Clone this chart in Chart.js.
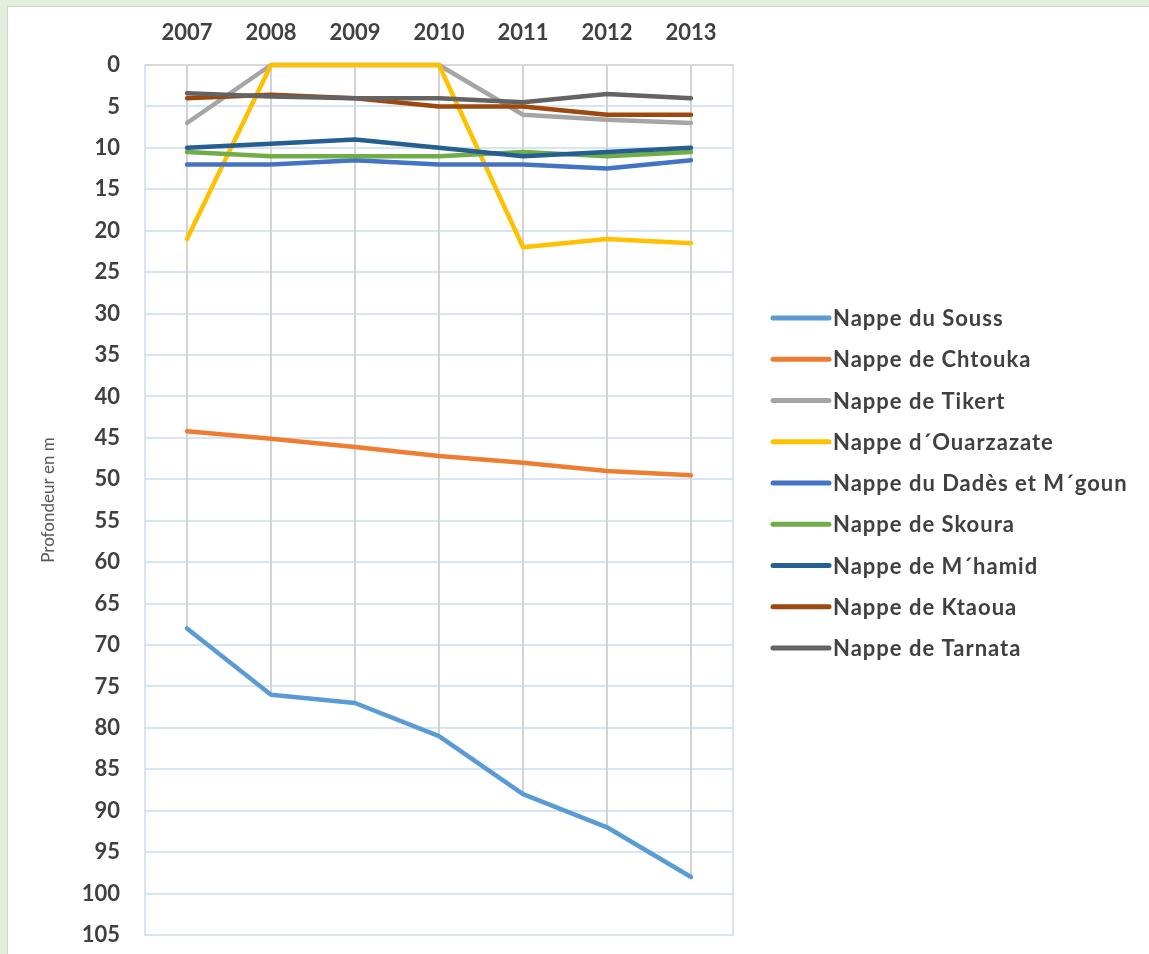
<!DOCTYPE html>
<html>
<head>
<meta charset="utf-8">
<script src="https://cdn.jsdelivr.net/npm/chart.js@4"></script>
<style>
html, body { margin: 0; padding: 0; background: #e2efda; width: 1149px; height: 954px; overflow: hidden; }
#frame { position: absolute; left: 7px; top: 6px; width: 1142px; height: 948px; background: #fff;
         border-left: 1px solid #d4d4d4; border-top: 1px solid #d4d4d4; }
#frame canvas { display: block; }
</style>
</head>
<body>
<div id="frame"><canvas id="c" width="1142" height="948" style="width:1142px;height:948px"></canvas></div>
<script>
const years = ["2007", "2008", "2009", "2010", "2011", "2012", "2013"];

const souss      = [68, 76, 77, 81, 88, 92, 98];
const chtouka    = [44.2, 45.1, 46.1, 47.2, 48, 49, 49.5];
const tikert     = [7, 0, 0, 0, 6, 6.6, 7];
const ouarzazate = [21, 0, 0, 0, 22, 21, 21.5];
const dades      = [12, 12, 11.5, 12, 12, 12.5, 11.5];
const skoura     = [10.5, 11, 11, 11, 10.5, 11, 10.5];
const mhamid     = [10, 9.5, 9, 10, 11, 10.5, 10];
const ktaoua     = [4, 3.6, 4, 5, 5, 6, 6];
const tarnata    = [3.4, 3.8, 4, 4, 4.5, 3.5, 4];

const names = ["Nappe du Souss", "Nappe de Chtouka", "Nappe de Tikert", "Nappe d\u00b4Ouarzazate",
               "Nappe du Dad\u00e8s et M\u00b4goun", "Nappe de Skoura", "Nappe de M\u00b4hamid",
               "Nappe de Ktaoua", "Nappe de Tarnata"];
const values = [souss, chtouka, tikert, ouarzazate, dades, skoura, mhamid, ktaoua, tarnata];
const colors = ["#5b9bd5", "#ed7d31", "#a5a5a5", "#ffc000", "#4472c4", "#70ad47", "#255e91", "#9e480e", "#636363"];

const FONT = "Lato, 'Open Sans', sans-serif";

// drop lines, plot border and the legend on the right
const decor = {
    id: "decor",
    beforeDatasetsDraw(chart) {
        const { ctx, chartArea: a, scales: { x, y } } = chart;
        ctx.save();
        ctx.strokeStyle = "#d3d3d3";
        ctx.lineWidth = 2;
        years.forEach((_, i) => {
            const deepest = Math.max(...chart.data.datasets.map(d => d.data[i]));
            const px = Math.round(x.getPixelForValue(i));
            ctx.beginPath();
            ctx.moveTo(px, a.top);
            ctx.lineTo(px, y.getPixelForValue(deepest));
            ctx.stroke();
        });
        ctx.strokeStyle = "#d6e4f5";
        ctx.strokeRect(a.left, a.top, a.width, a.height);
        ctx.strokeStyle = "#d9d9d9";
        ctx.beginPath();
        ctx.moveTo(a.left, a.top);
        ctx.lineTo(a.right, a.top);
        ctx.stroke();
        ctx.restore();
    },
    afterDraw(chart) {
        const { ctx, chartArea: a } = chart;
        ctx.save();
        ctx.font = "bold 22px " + FONT;
        ctx.letterSpacing = "1px";
        ctx.textBaseline = "middle";
        chart.data.datasets.forEach((ds, i) => {
            const yy = 311 + i * 41.25;
            const x0 = a.right + 40;
            ctx.strokeStyle = ds.borderColor;
            ctx.lineWidth = 5;
            ctx.lineCap = "round";
            ctx.beginPath();
            ctx.moveTo(x0, yy);
            ctx.lineTo(x0 + 56, yy);
            ctx.stroke();
            ctx.fillStyle = "#404040";
            ctx.fillText(ds.label, x0 + 60, yy + 1);
        });
        ctx.restore();
    }
};

new Chart(document.getElementById("c"), {
    type: "line",
    data: {
        labels: years,
        datasets: values.map((v, i) => ({
            label: names[i],
            data: v,
            borderColor: colors[i],
            backgroundColor: colors[i],
            borderWidth: 4.5,
            pointRadius: 0,
            borderJoinStyle: "round",
            borderCapStyle: "round",
            clip: false,
            order: values.length - i
        }))
    },
    options: {
        responsive: false,
        animation: false,
        layout: { padding: { left: 0, top: 0, right: 417, bottom: 20 } },
        plugins: { legend: { display: false }, tooltip: { enabled: false } },
        scales: {
            x: {
                position: "top",
                offset: true,
                grid: { display: false, drawTicks: false },
                border: { display: false },
                ticks: { padding: 19, color: "#404040", font: { family: FONT, size: 22, weight: "bold" } },
                afterFit(s) { s.height = 58; }
            },
            y: {
                reverse: true,
                min: 0,
                max: 105,
                grid: { color: "#d6e4f5", lineWidth: 2, drawTicks: false },
                border: { display: false },
                ticks: { stepSize: 5, padding: 25, color: "#404040", font: { family: FONT, size: 22, weight: "bold" } },
                title: {
                    display: true,
                    text: "Profondeur en m",
                    color: "#595959",
                    padding: { top: 30 },
                    font: { family: FONT, size: 17, weight: "normal" }
                },
                afterFit(s) {
                    s.width = 137;
                    s.paddingTop = 0;
                    s.paddingBottom = 0;
                }
            }
        }
    },
    plugins: [decor]
});
</script>
</body>
</html>
